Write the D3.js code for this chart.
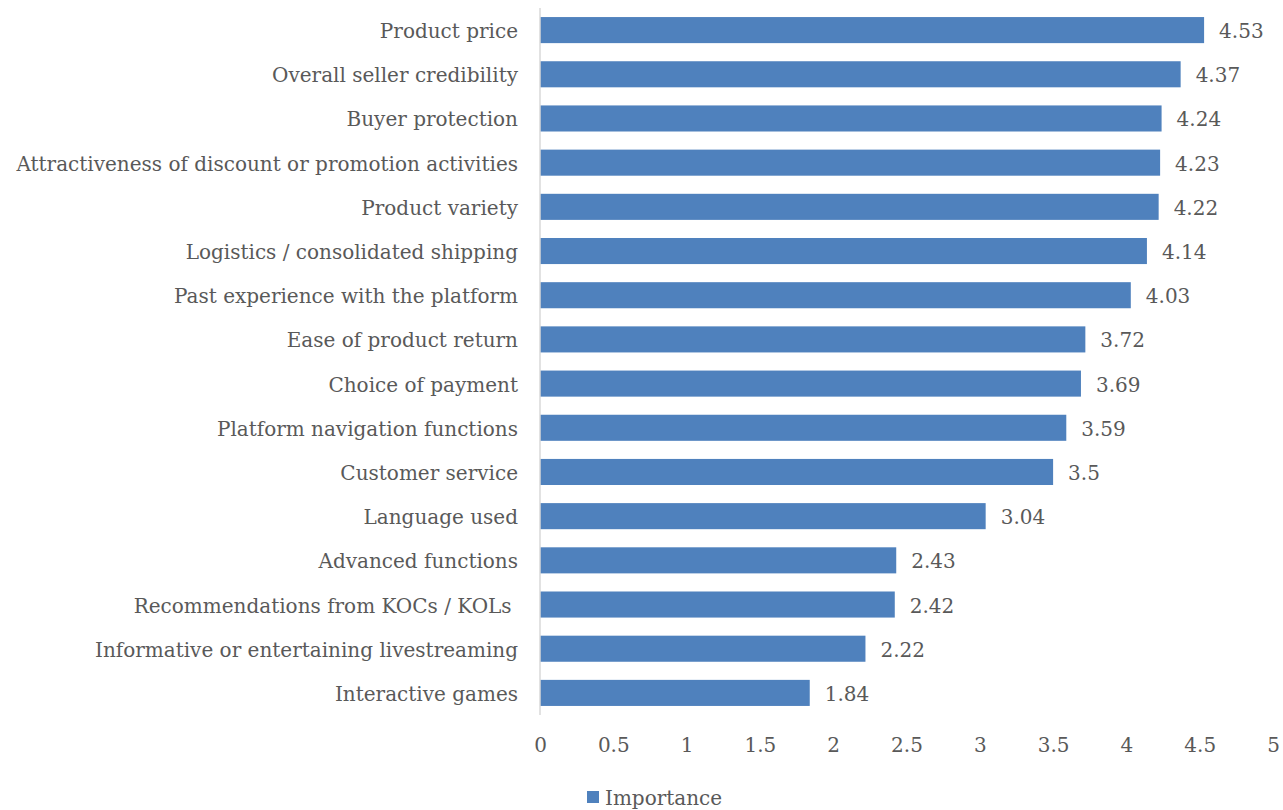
<!DOCTYPE html>
<html>
<head>
<meta charset="utf-8">
<script src="https://cdn.jsdelivr.net/npm/d3@7/dist/d3.min.js"></script>
<style>
  html, body { margin: 0; padding: 0; background: #fff; }
  svg text { font-family: "DejaVu Serif", "Liberation Serif", serif; fill: #595959; white-space: pre; }
</style>
</head>
<body>
<svg id="chart" width="1283" height="810"></svg>
<script>
const categories = [
  "Product price",
  "Overall seller credibility",
  "Buyer protection",
  "Attractiveness of discount or promotion activities",
  "Product variety",
  "Logistics / consolidated shipping",
  "Past experience with the platform",
  "Ease of product return",
  "Choice of payment",
  "Platform navigation functions",
  "Customer service",
  "Language used",
  "Advanced functions",
  "Recommendations from KOCs / KOLs ",
  "Informative or entertaining livestreaming",
  "Interactive games"
];
const importance = [4.53, 4.37, 4.24, 4.23, 4.22, 4.14, 4.03, 3.72, 3.69, 3.59, 3.5, 3.04, 2.43, 2.42, 2.22, 1.84];
const xTicks = [0, 0.5, 1, 1.5, 2, 2.5, 3, 3.5, 4, 4.5, 5];
const seriesName = "Importance";

const svg = d3.select("#chart");
const plot = { left: 540, right: 1273, top: 8, bottom: 715 };
const fontSize = 20;
const barColor = "#4F81BD";

const x = d3.scaleLinear().domain([0, 5]).range([plot.left, plot.right]);
const y = d3.scaleBand().domain(categories).range([plot.top, plot.bottom]).paddingInner(0.41).paddingOuter(0.205);

// bars
svg.append("g").selectAll("rect")
  .data(categories)
  .join("rect")
  .attr("x", x(0))
  .attr("y", d => y(d))
  .attr("width", (d, i) => x(importance[i]) - x(0))
  .attr("height", y.bandwidth())
  .attr("fill", barColor);

// value labels
svg.append("g").selectAll("text")
  .data(categories)
  .join("text")
  .attr("x", (d, i) => x(importance[i]) + 15)
  .attr("y", d => y(d) + y.bandwidth() / 2)
  .attr("dy", "0.4em")
  .style("font-size", fontSize + "px")
  .text((d, i) => importance[i]);

// category axis
const yAxis = svg.append("g")
  .attr("transform", `translate(${plot.left},0)`)
  .call(d3.axisLeft(y).tickSize(0).tickPadding(22));
yAxis.select(".domain").attr("stroke", "#d9d9d9").attr("stroke-width", 1.5)
  .attr("d", `M0,${plot.top}V${plot.bottom}`);
yAxis.selectAll("text").style("font-size", fontSize + "px").attr("fill", "#595959").attr("dy", "0.4em");

// value axis (labels only)
const xAxis = svg.append("g")
  .attr("transform", `translate(0,${plot.bottom})`)
  .call(d3.axisBottom(x).tickValues(xTicks).tickSize(0).tickPadding(23).tickFormat(d3.format("")));
xAxis.select(".domain").remove();
xAxis.selectAll("text").style("font-size", fontSize + "px").attr("fill", "#595959");

// legend
const legend = svg.append("g").attr("transform", "translate(587,791)");
legend.append("rect").attr("width", 12).attr("height", 12).attr("fill", barColor);
legend.append("text").attr("x", 18).attr("y", 6).attr("dy", "0.4em")
  .style("font-size", fontSize + "px").text(seriesName);
</script>
</body>
</html>
